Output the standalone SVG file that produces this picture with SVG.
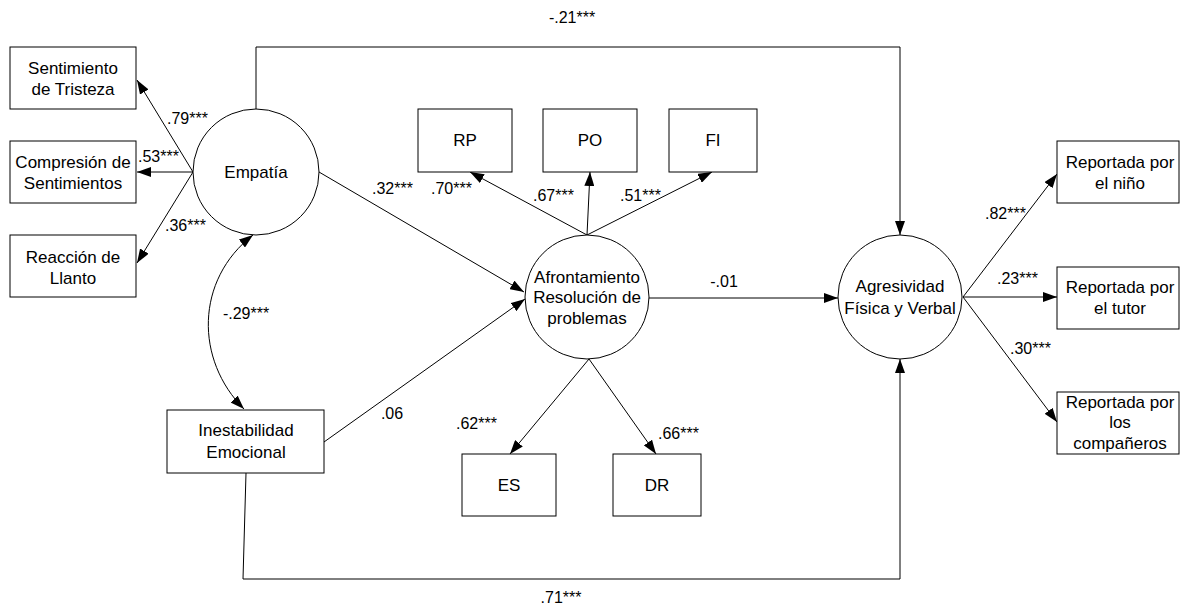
<svg xmlns="http://www.w3.org/2000/svg" width="1181" height="609" viewBox="0 0 1181 609">
<style>
  .box{fill:#fff;stroke:#000;stroke-width:1}
  .lat{fill:#fff;stroke:#000;stroke-width:1}
  .t{font-family:"Liberation Sans",Arial,sans-serif;font-size:17px;fill:#000;text-anchor:middle}
  .l{font-family:"Liberation Sans",Arial,sans-serif;font-size:16px;fill:#000}
  .c{fill:none;stroke:#000;stroke-width:1}
  .a{marker-end:url(#arr)}
</style>
<defs>
  <marker id="arr" markerUnits="userSpaceOnUse" markerWidth="14" markerHeight="10" viewBox="0 0 14 10" refX="14" refY="5" orient="auto-start-reverse">
    <path d="M0,0 L14,5 L0,10 z" fill="#000"/>
  </marker>
</defs>
<rect width="1181" height="609" fill="#fff"/>
<g id="connectors">
  <path class="c a" d="M193,172 L137,80"/>
  <path class="c a" d="M193,172 L137,172"/>
  <path class="c a" d="M193,172 L137,263"/>
  <path class="c a" d="M256,109 V47 H900 V235"/>
  <path class="c a" d="M319,172 L524,292"/>
  <path class="c a" d="M324,442 L525,299"/>
  <path class="c a" d="M253,235 C195,280 195,360 244,409" marker-start="url(#arr)"/>
  <path class="c a" d="M587,235 L470,172"/>
  <path class="c a" d="M587,235 L590,172"/>
  <path class="c a" d="M587,235 L712,172"/>
  <path class="c a" d="M589,359 L510,454"/>
  <path class="c a" d="M589,359 L656,454"/>
  <path class="c a" d="M649,298 L838,298"/>
  <path class="c a" d="M246,473 L243,579 H900 V359"/>
  <path class="c a" d="M963,297 L1057,174"/>
  <path class="c a" d="M963,297 L1057,297"/>
  <path class="c a" d="M963,297 L1057,422"/>
  <text class="l" x="572" y="23" text-anchor="middle">-.21***</text>
  <text class="l" x="167" y="124">.79***</text>
  <text class="l" x="138" y="162">.53***</text>
  <text class="l" x="165" y="231">.36***</text>
  <text class="l" x="246" y="319" text-anchor="middle">-.29***</text>
  <text class="l" x="372" y="194">.32***</text>
  <text class="l" x="431" y="194">.70***</text>
  <text class="l" x="533" y="201">.67***</text>
  <text class="l" x="620" y="201">.51***</text>
  <text class="l" x="724" y="287" text-anchor="middle">-.01</text>
  <text class="l" x="392" y="419" text-anchor="middle">.06</text>
  <text class="l" x="456" y="429">.62***</text>
  <text class="l" x="658" y="439">.66***</text>
  <text class="l" x="561" y="603" text-anchor="middle">.71***</text>
  <text class="l" x="985" y="219">.82***</text>
  <text class="l" x="997" y="284">.23***</text>
  <text class="l" x="1010" y="354">.30***</text>
</g>
<g id="tristeza"><rect class="box" x="10" y="47" width="126" height="62"/><text class="t" x="73" y="74">Sentimiento</text><text class="t" x="73" y="95">de Tristeza</text></g>
<g id="compresion"><rect class="box" x="10" y="141" width="126" height="62"/><text class="t" x="73" y="168">Compresión de</text><text class="t" x="73" y="189">Sentimientos</text></g>
<g id="llanto"><rect class="box" x="10" y="235" width="126" height="62"/><text class="t" x="73" y="263">Reacción de</text><text class="t" x="73" y="284">Llanto</text></g>
<g id="empatia"><circle class="lat" cx="256" cy="172" r="63"/><text class="t" x="256" y="178">Empatía</text></g>
<g id="rp"><rect class="box" x="418" y="109" width="94" height="63"/><text class="t" x="465" y="146">RP</text></g>
<g id="po"><rect class="box" x="543" y="109" width="94" height="63"/><text class="t" x="590" y="146">PO</text></g>
<g id="fi"><rect class="box" x="669" y="109" width="88" height="63"/><text class="t" x="713" y="146">FI</text></g>
<g id="afrontamiento"><circle class="lat" cx="587" cy="297" r="62"/><text class="t" x="587" y="283">Afrontamiento</text><text class="t" x="587" y="303">Resolución de</text><text class="t" x="587" y="324">problemas</text></g>
<g id="es"><rect class="box" x="462" y="454" width="94" height="62"/><text class="t" x="509" y="491">ES</text></g>
<g id="dr"><rect class="box" x="613" y="454" width="88" height="62"/><text class="t" x="657" y="491">DR</text></g>
<g id="inestabilidad"><rect class="box" x="167" y="410" width="157" height="63"/><text class="t" x="246" y="436">Inestabilidad</text><text class="t" x="246" y="458">Emocional</text></g>
<g id="agresividad"><circle class="lat" cx="900" cy="297" r="62"/><text class="t" x="900" y="292">Agresividad</text><text class="t" x="900" y="314">Física y Verbal</text></g>
<g id="nino"><rect class="box" x="1057" y="141" width="122" height="62"/><text class="t" x="1120" y="168">Reportada por</text><text class="t" x="1120" y="189">el niño</text></g>
<g id="tutor"><rect class="box" x="1057" y="267" width="122" height="62"/><text class="t" x="1120" y="293">Reportada por</text><text class="t" x="1120" y="314">el tutor</text></g>
<g id="companeros"><rect class="box" x="1057" y="392" width="122" height="62"/><text class="t" x="1120" y="408">Reportada por</text><text class="t" x="1120" y="428">los</text><text class="t" x="1120" y="449">compañeros</text></g>
</svg>
